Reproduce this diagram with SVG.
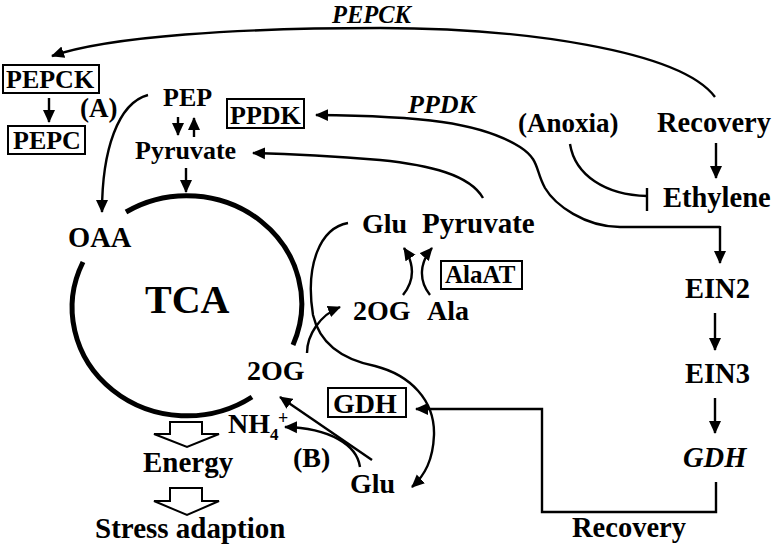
<svg xmlns="http://www.w3.org/2000/svg" width="777" height="547" viewBox="0 0 777 547">
<defs>
<marker id="ah" markerUnits="userSpaceOnUse" markerWidth="14" markerHeight="13" refX="12" refY="6.5" orient="auto-start-reverse" viewBox="0 0 14 13">
<path d="M0,0.5 L13,6.5 L0,12.5 z" fill="#000"/>
</marker>
<style>
text{font-family:"Liberation Serif","Times New Roman",serif;font-weight:bold;fill:#000}
.i{font-style:italic}
.c{fill:none;stroke:#000;stroke-width:2.4}
.a{marker-end:url(#ah)}
.box{fill:#fff;stroke:#000;stroke-width:2}
.tca{fill:none;stroke:#000;stroke-width:5}
.hol{fill:#fff;stroke:#000;stroke-width:2}
</style>
</defs>
<rect width="777" height="547" fill="#fff"/>

<g id="connectors">
<path class="c a" d="M715,97 C680,50 520,28 380,28 C240,28 110,36 52,56"/>
<path class="c a" d="M720,227 L620,227 C585,227 555,205 545,188 C535,170 540,160 520,147 C480,122 420,116 316,115"/>
<path class="c a" d="M720,226 L720,263"/>
<path class="c a" d="M483,198 C470,175 430,165 380,160 C330,156 290,154 253,153"/>
<path class="c" d="M570,144 C575,175 605,195 647,196"/>
<path class="c" d="M647,188 L647,211"/>
<path class="c a" d="M716,143 L716,178"/>
<path class="c a" d="M715,313 L715,350"/>
<path class="c a" d="M715,398 L715,433"/>
<path class="c a" d="M716,482 L716,512 L542,512 L542,409 L416,409"/>
<path class="c a" d="M148,95 C118,103 102,150 102,212"/>
<path class="c a" d="M186,168 L186,192"/>
<path class="c a" d="M178,117 L178,135"/>
<path class="c a" d="M194,137 L194,118"/>
<path class="c a" d="M49,98 L49,122"/>
<path class="c a" d="M307,353 C307,335 320,315 340,307"/>
<path class="c a" d="M348,223 C320,228 305,265 313,315 C320,345 345,360 375,366 C410,375 435,400 434,435 C433,460 425,475 412,487"/>
<path class="c a" d="M403,295 C415,280 415,265 404,248"/>
<path class="c a" d="M430,295 C418,280 420,262 432,248"/>
<path class="c a" d="M372,460 L280,397"/>
<path class="c a" d="M360,467 C357,445 330,428 285,427"/>
</g>

<g id="tca">
<path class="tca" d="M126,212 A115,108 0 0 1 293,345"/>
<path class="tca" d="M252,397 A115,108 0 0 1 83,262"/>
<text x="145" y="313" font-size="40">TCA</text>
</g>

<g id="pepck-label"><text class="i" x="332" y="23" font-size="24.5">PEPCK</text></g>
<g id="pepck-box"><rect class="box" x="3" y="65" width="96" height="28"/><text x="6" y="88" font-size="26">PEPCK</text></g>
<g id="pepc-box"><rect class="box" x="8" y="126" width="77" height="28"/><text x="13" y="149" font-size="26">PEPC</text></g>
<g id="labelA"><text x="80" y="117" font-size="27">(A)</text></g>
<g id="pep"><text x="163" y="106" font-size="26">PEP</text></g>
<g id="pyruvate1"><text x="135" y="159" font-size="26">Pyruvate</text></g>
<g id="ppdk-box"><rect class="box" x="227" y="99" width="77" height="29"/><text x="230" y="124" font-size="26">PPDK</text></g>
<g id="ppdk-label"><text class="i" x="408" y="113" font-size="26">PPDK</text></g>
<g id="anoxia"><text x="518" y="132" font-size="27">(Anoxia)</text></g>
<g id="recovery1"><text x="657" y="132" font-size="28.5">Recovery</text></g>
<g id="ethylene"><text x="663" y="207" font-size="28.5">Ethylene</text></g>
<g id="ein2"><text x="685" y="298" font-size="28.5">EIN2</text></g>
<g id="ein3"><text x="685" y="383" font-size="28.5">EIN3</text></g>
<g id="gdh-gene"><text class="i" x="683" y="467" font-size="28.5">GDH</text></g>
<g id="recovery2"><text x="572" y="537" font-size="28.5">Recovery</text></g>
<g id="glu1"><text x="362" y="233" font-size="28">Glu</text></g>
<g id="pyruvate2"><text x="422" y="233" font-size="29">Pyruvate</text></g>
<g id="alaat-box"><rect class="box" x="441" y="261" width="81" height="28"/><text x="445" y="283" font-size="25">AlaAT</text></g>
<g id="og2"><text x="353" y="320" font-size="28">2OG</text></g>
<g id="ala"><text x="427" y="320" font-size="28">Ala</text></g>
<g id="oaa"><text x="68" y="247" font-size="28.5">OAA</text></g>
<g id="og1"><text x="247" y="380" font-size="28">2OG</text></g>
<g id="nh4"><text x="228" y="433" font-size="28">NH</text><text x="270" y="440" font-size="17">4</text><text x="278" y="424" font-size="18">+</text></g>
<g id="gdh-box"><rect class="box" x="328" y="388" width="78" height="29"/><text x="333" y="413" font-size="28">GDH</text></g>
<g id="labelB"><text x="293" y="467" font-size="28">(B)</text></g>
<g id="glu2"><text x="350" y="493" font-size="28">Glu</text></g>
<g id="energy"><polygon class="hol" points="170,422 202,422 202,434 219,434 187,447 154,434 170,434"/><text x="143" y="472" font-size="29">Energy</text></g>
<g id="stress"><polygon class="hol" points="170,488 202,488 202,501 219,501 187,515 154,501 170,501"/><text x="95" y="538" font-size="29">Stress adaption</text></g>
</svg>
